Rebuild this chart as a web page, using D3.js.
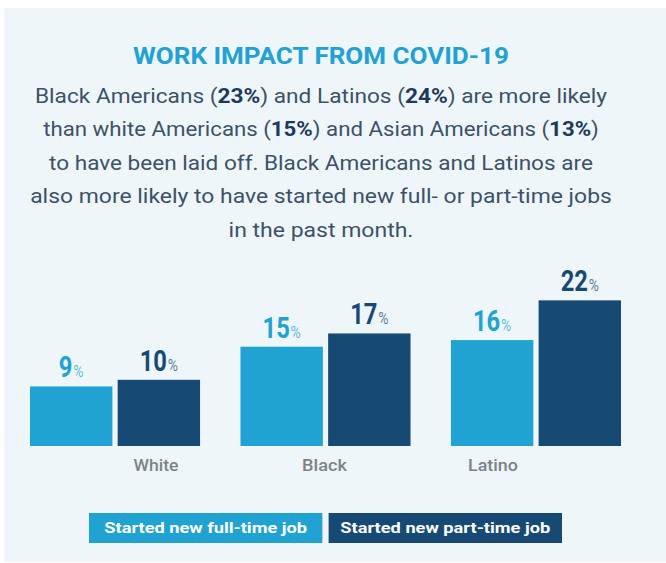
<!DOCTYPE html>
<html>
<head>
<meta charset="utf-8">
<script src="https://cdn.jsdelivr.net/npm/d3@7"></script>
<style>
  html, body { margin: 0; padding: 0; background: #ffffff; }
  svg { display: block; font-family: Roboto, "Noto Sans", sans-serif; }
</style>
</head>
<body>
<svg id="chart" width="666" height="563"></svg>
<script>
// ---- data ----
const categories = ["White", "Black", "Latino"];
const seriesNames = ["Started new full-time job", "Started new part-time job"];
const fullTimeValues = [9, 15, 16];
const partTimeValues = [10, 17, 22];
const seriesColors = ["#20a3d3", "#164a74"];

const titleText = "WORK IMPACT FROM COVID-19";
// body copy, one array per line: [text, isBold]
const bodyLines = [
  [["Black Americans (", false], ["23%", true], [") and Latinos (", false], ["24%", true], [") are more likely", false]],
  [["than white Americans (", false], ["15%", true], [") and Asian Americans (", false], ["13%", true], [")", false]],
  [["to have been laid off. Black Americans and Latinos are", false]],
  [["also more likely to have started new full- or part-time jobs", false]],
  [["in the past month.", false]]
];
const bodyWidths = [573, 556, 544, 582, 185];

const svg = d3.select("#chart");
const W = 666, H = 563;

// squeeze a centred text element horizontally to a target width
function fitWidth(sel, target, cx) {
  const w = sel.node().getBBox().width;
  const k = target / w;
  sel.attr("transform", `translate(${cx},0) scale(${k},1) translate(${-cx},0)`);
}
function condense(sel, k, cx) {
  sel.attr("transform", `translate(${cx},0) scale(${k},1) translate(${-cx},0)`);
}

// panel background
svg.append("rect")
  .attr("x", 4).attr("y", 8)
  .attr("width", W - 4).attr("height", 554)
  .attr("fill", "#eef6f9");

const cx = 321;

// title
const title = svg.append("text")
  .attr("x", cx).attr("y", 64)
  .attr("text-anchor", "middle")
  .attr("font-size", 24).attr("font-weight", 700)
  .attr("fill", "#22a2d4")
  .text(titleText);
fitWidth(title, 376, cx);

// body copy
bodyLines.forEach((segs, i) => {
  const t = svg.append("text")
    .attr("x", cx).attr("y", 103 + i * 33.5)
    .attr("text-anchor", "middle")
    .attr("font-size", 20)
    .attr("fill", "#3c5268");
  segs.forEach(([s, b]) => {
    t.append("tspan")
      .attr("font-weight", b ? 700 : 400)
      .attr("fill", b ? "#1c3a5c" : "#3c5268")
      .text(s);
  });
  fitWidth(t, bodyWidths[i], cx);
});

// ---- scales ----
const x0 = d3.scaleBand().domain(categories).range([30, 621]).paddingInner(0.192).paddingOuter(0);
const x1 = d3.scaleBand().domain(seriesNames).range([0, x0.bandwidth()]).paddingInner(0.06);
const y = d3.scaleLinear().domain([0, 25]).range([446, 446 - 25 * 6.62]);
const color = d3.scaleOrdinal().domain(seriesNames).range(seriesColors);
const labelX = d3.scalePoint().domain(categories).range([156, 493]);

const rows = categories.map((c, i) => ({
  category: c,
  values: [
    { series: seriesNames[0], value: fullTimeValues[i] },
    { series: seriesNames[1], value: partTimeValues[i] }
  ]
}));

const groups = svg.append("g").selectAll("g.group")
  .data(rows).join("g")
  .attr("class", "group")
  .attr("transform", d => `translate(${x0(d.category)},0)`);

groups.selectAll("rect")
  .data(d => d.values).join("rect")
  .attr("x", d => x1(d.series))
  .attr("y", d => y(d.value))
  .attr("width", x1.bandwidth())
  .attr("height", d => y(0) - y(d.value))
  .attr("fill", d => color(d.series));

// value labels: large number with a small percent sign
groups.selectAll("text.value")
  .data(d => d.values).join("text")
  .attr("class", "value")
  .attr("x", d => x1(d.series) + x1.bandwidth() / 2)
  .attr("y", d => y(d.value) - 9)
  .attr("text-anchor", "middle")
  .attr("fill", d => color(d.series))
  .each(function (d) {
    const t = d3.select(this);
    t.append("tspan").attr("font-size", 29).attr("font-weight", 700).text(d.value);
    t.append("tspan").attr("font-size", 17).attr("font-weight", 400).attr("fill-opacity", 0.7).attr("dx", 1).text("%");
    condense(t, 0.82, x1(d.series) + x1.bandwidth() / 2);
  });

// category labels
const catWidths = [45, 45, 50];
svg.append("g").selectAll("text")
  .data(categories).join("text")
  .attr("x", d => labelX(d))
  .attr("y", 471)
  .attr("text-anchor", "middle")
  .attr("font-size", 17).attr("font-weight", 500)
  .attr("fill", "#7d8287")
  .text(d => d)
  .each(function (d, i) {
    fitWidth(d3.select(this), catWidths[i], labelX(d));
  });

// legend
const legendX = d3.scaleBand().domain(seriesNames).range([89, 562]).paddingInner(0.026);
const legend = svg.append("g").selectAll("g")
  .data(seriesNames).join("g");
legend.append("rect")
  .attr("x", d => legendX(d))
  .attr("y", 513)
  .attr("width", legendX.bandwidth())
  .attr("height", 30)
  .attr("fill", d => color(d));
const legendTextWidths = [203, 210];
legend.append("text")
  .attr("x", d => legendX(d) + legendX.bandwidth() / 2)
  .attr("y", 533)
  .attr("text-anchor", "middle")
  .attr("font-size", 15).attr("font-weight", 700)
  .attr("fill", "#ffffff")
  .text(d => d)
  .each(function (d, i) {
    fitWidth(d3.select(this), legendTextWidths[i], legendX(d) + legendX.bandwidth() / 2);
  });
</script>
</body>
</html>
